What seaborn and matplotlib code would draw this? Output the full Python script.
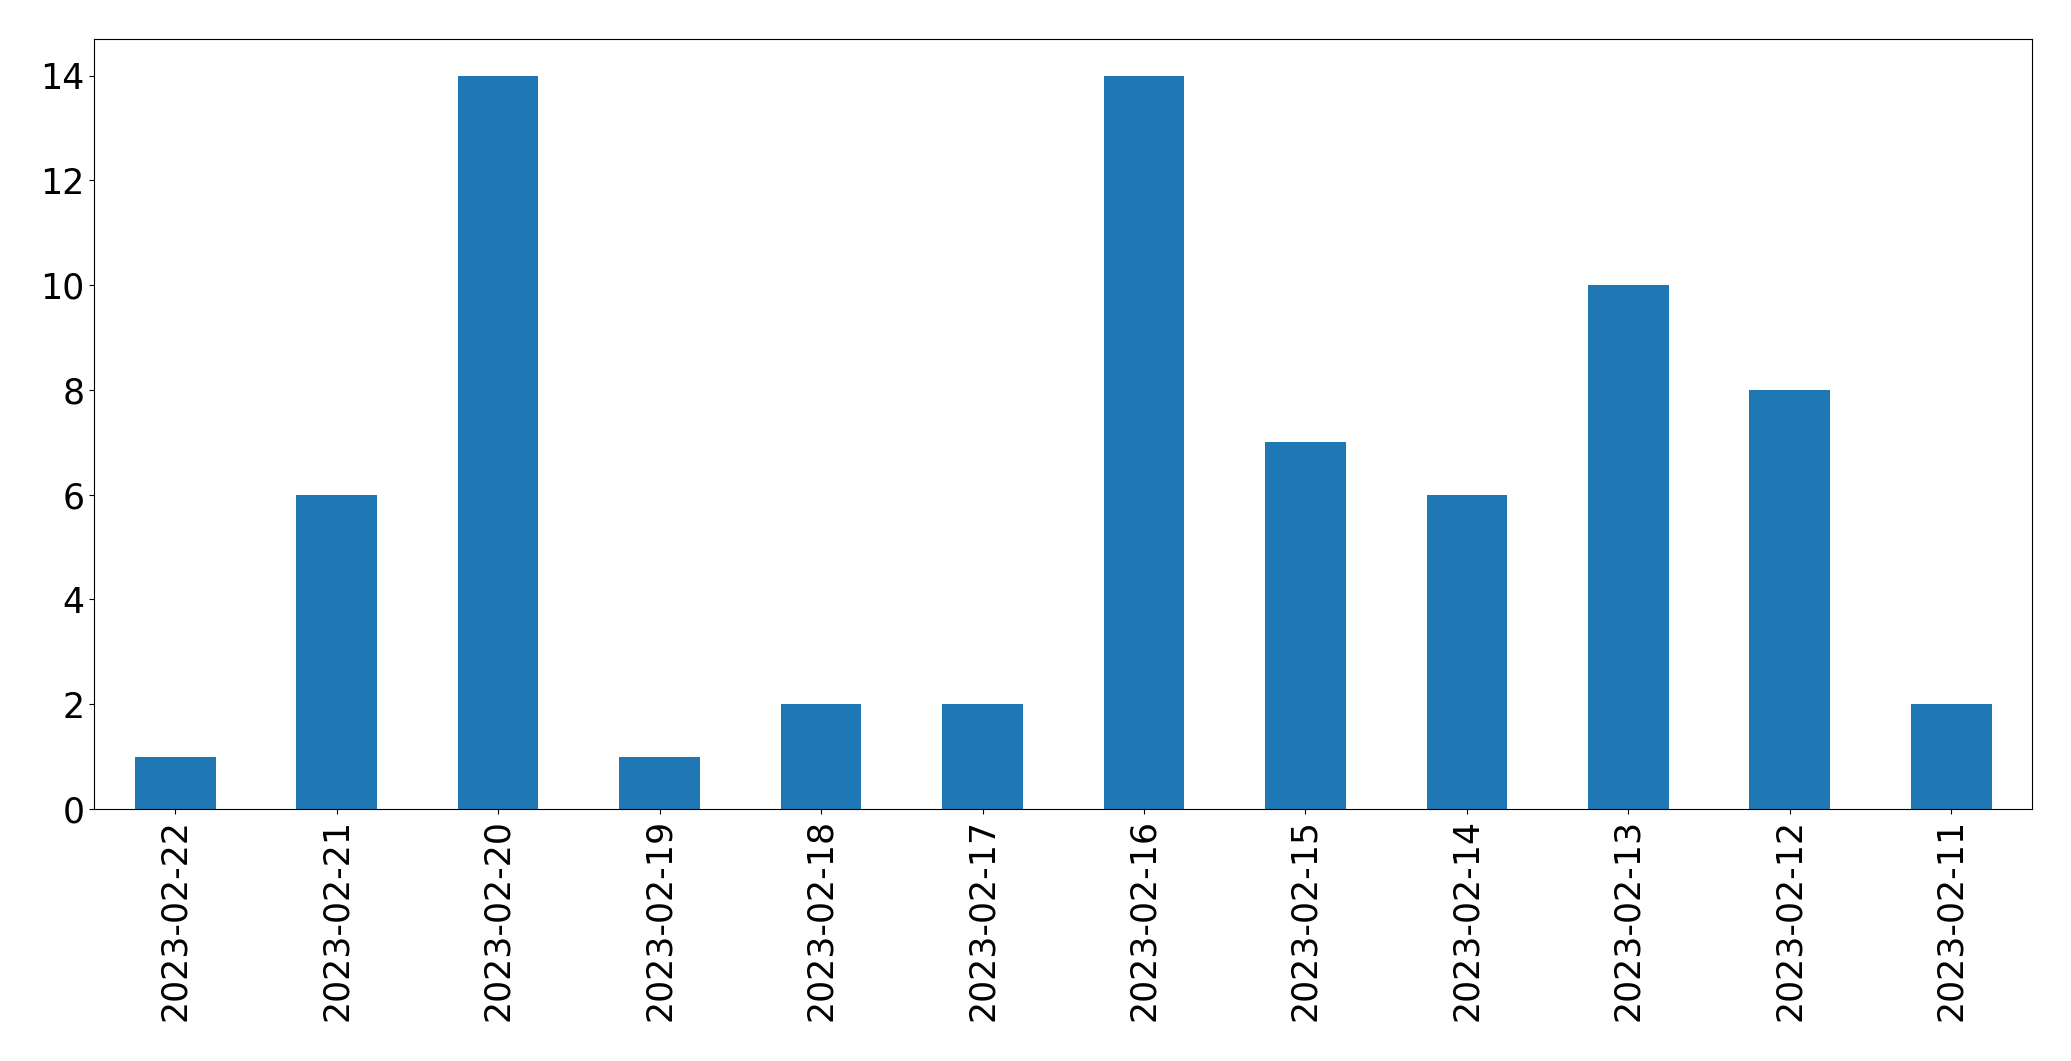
import pandas as pd
import matplotlib
matplotlib.use("Agg")
import matplotlib.pyplot as plt
import seaborn as sns

dates = ["2023-02-22", "2023-02-21", "2023-02-20", "2023-02-19", "2023-02-18", "2023-02-17",
         "2023-02-16", "2023-02-15", "2023-02-14", "2023-02-13", "2023-02-12", "2023-02-11"]
counts = [1, 6, 14, 1, 2, 2, 14, 7, 6, 10, 8, 2]

df = pd.DataFrame({"date": dates, "count": counts})

fig = plt.figure(figsize=(20.71, 10.61), dpi=100)
ax = fig.add_axes([0.0456, 0.2375, 0.9356, 0.7257])
sns.barplot(data=df, x="date", y="count", order=dates, color="#1f77b4",
            saturation=1, width=0.5, ax=ax)
ax.set_xlim(-0.5, len(dates) - 0.5)
ax.set_ylim(0, 14.7)
ax.set_xlabel("")
ax.set_ylabel("")
ax.tick_params(axis="both", labelsize=25)
ax.tick_params(axis="x", labelrotation=90)
fig.savefig("out.png", dpi=100)
